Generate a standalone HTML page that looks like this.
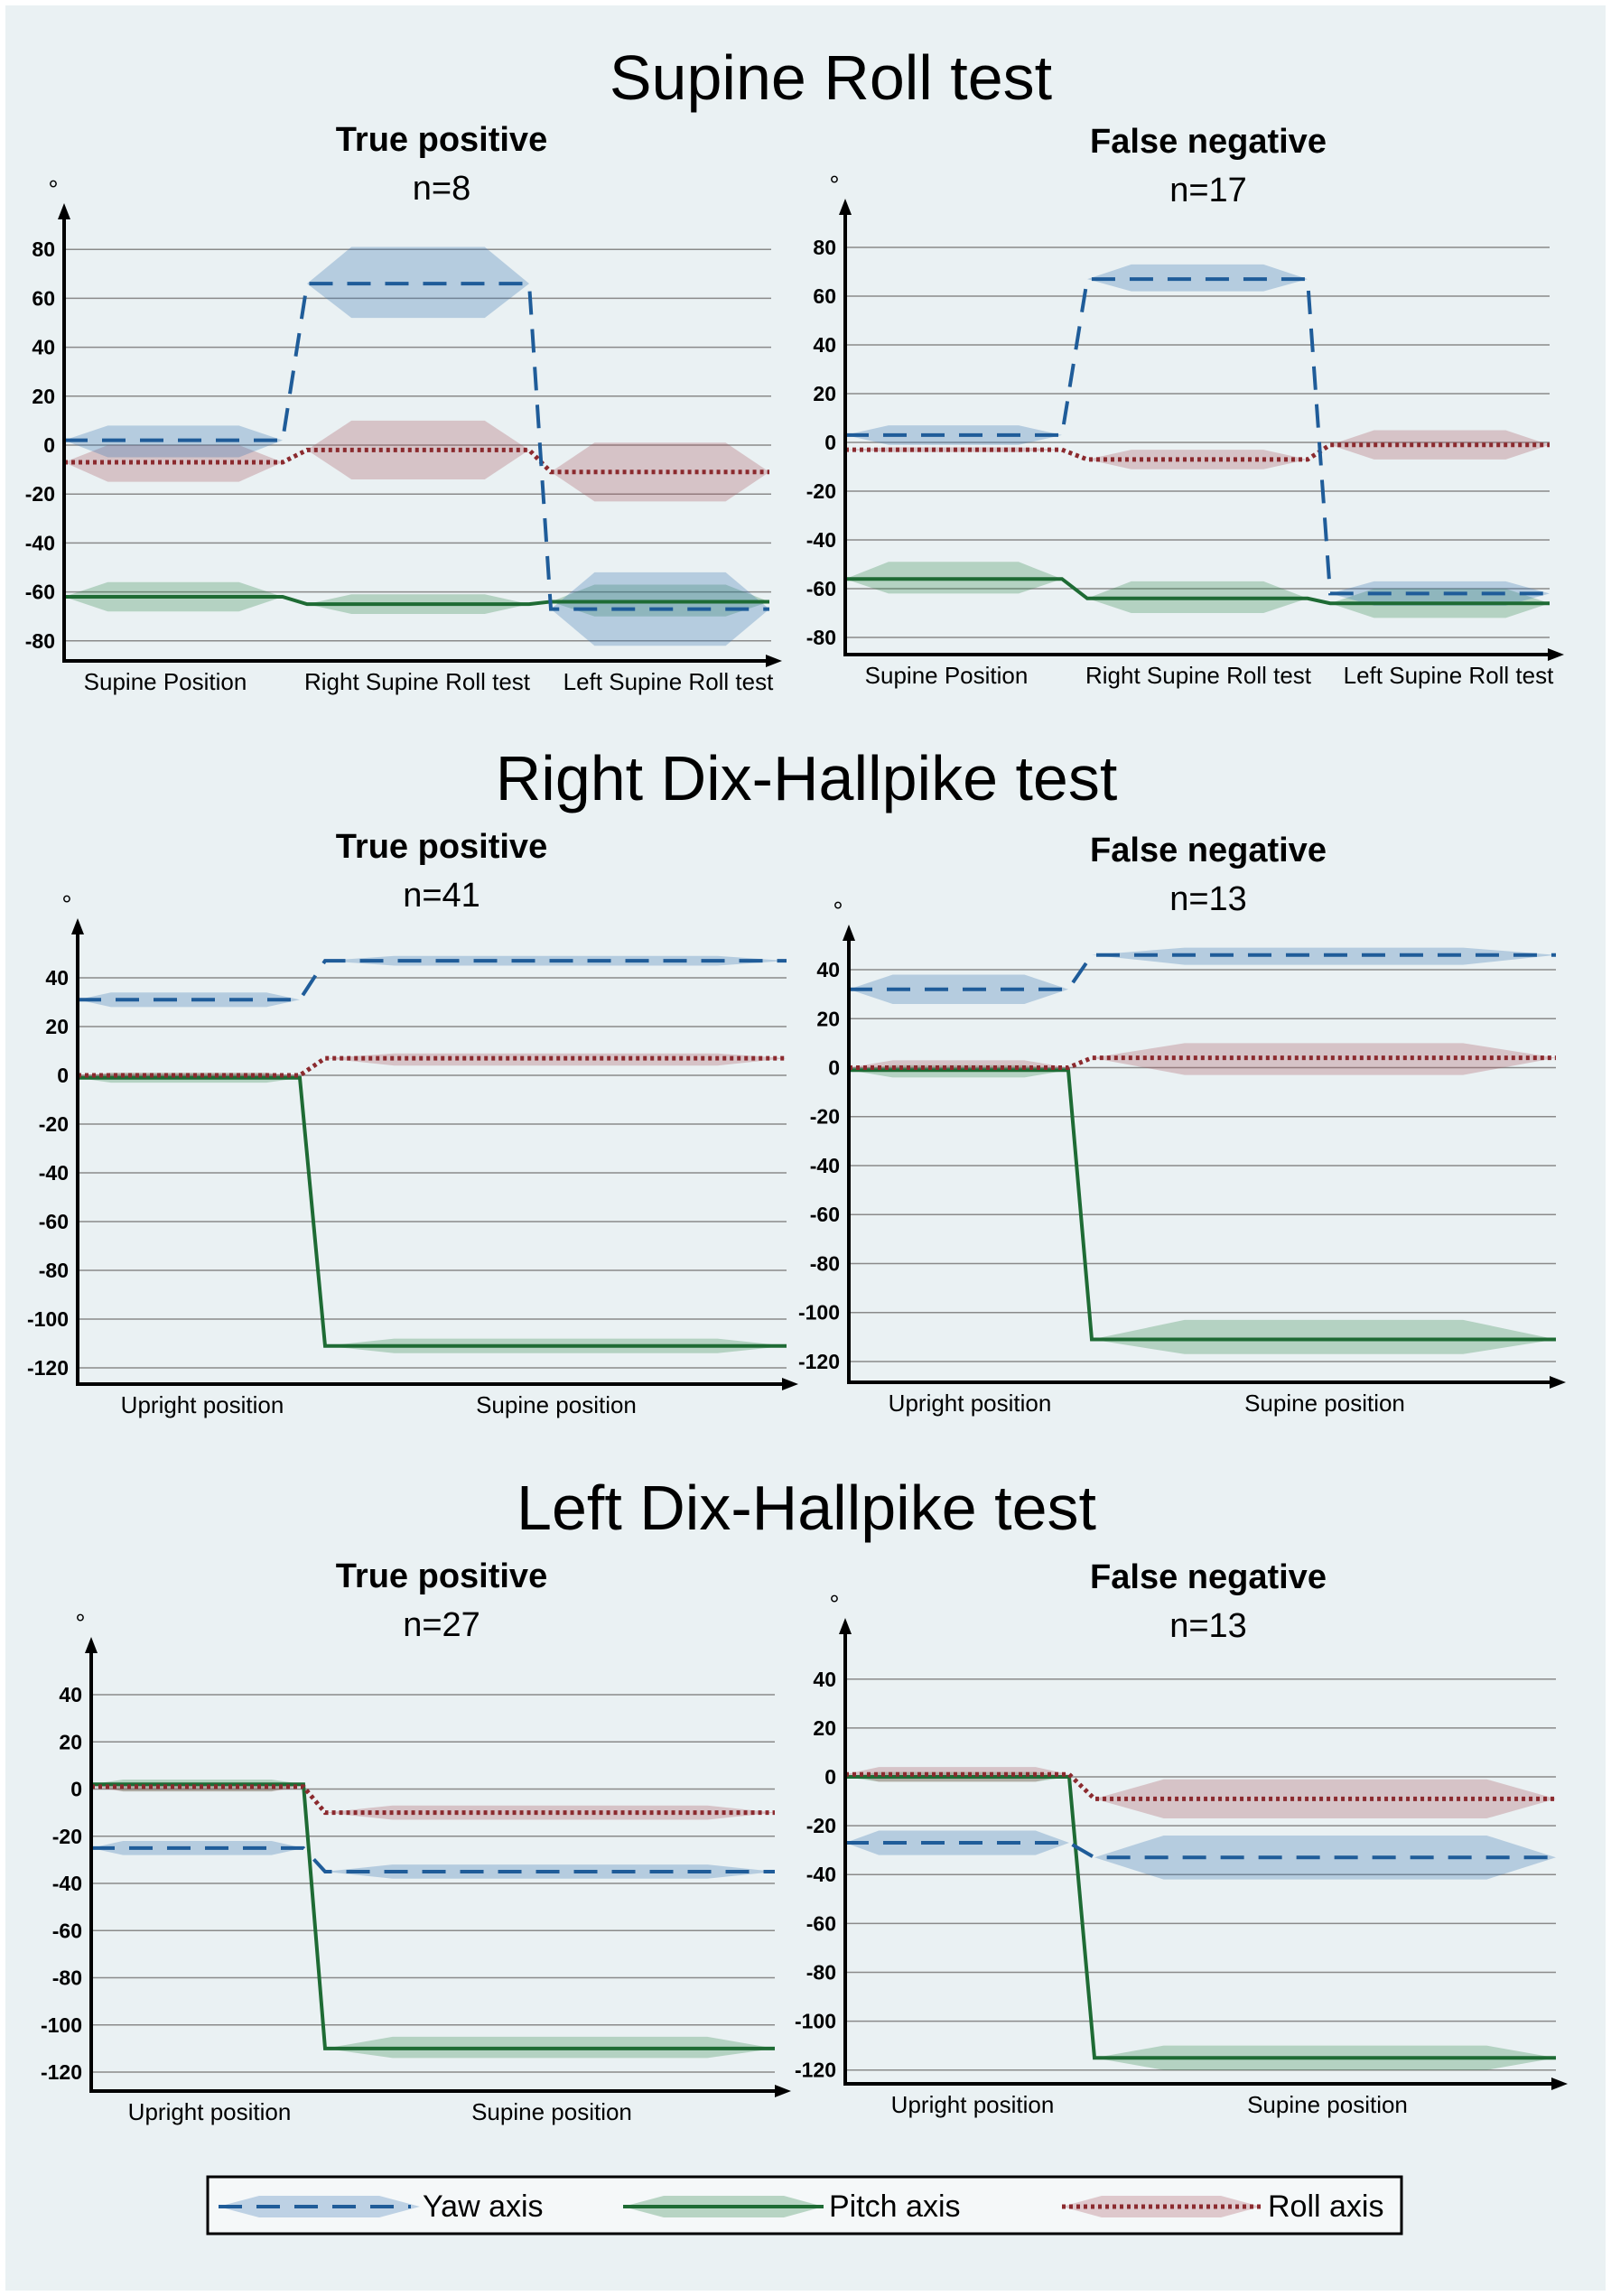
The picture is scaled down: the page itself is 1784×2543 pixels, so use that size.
<!DOCTYPE html>
<html><head><meta charset="utf-8">
<style>
html,body{margin:0;padding:0;background:#fff;}
#wrap{position:relative;width:1784px;height:2543px;background:#fff;}
svg{position:absolute;left:0;top:0;}
text{font-family:"Liberation Sans",sans-serif;}
</style></head>
<body>
<div id="wrap">
<svg id="fig" width="1784" height="2543" viewBox="0 0 1784 2543">
<rect x="6" y="6" width="1772" height="2531" fill="#eaf1f3"/>
<text x="920" y="110" font-size="70" text-anchor="middle" fill="#000">Supine Roll test</text>
<text x="893" y="886" font-size="70" text-anchor="middle" fill="#000">Right Dix-Hallpike test</text>
<text x="893" y="1694" font-size="70" text-anchor="middle" fill="#000">Left Dix-Hallpike test</text>
<g id="legend">
<rect x="230" y="2411" width="1322" height="63" fill="#f5f8f9" stroke="#000" stroke-width="3"/>
<g>
<polygon points="242,2444 287,2432 420,2432 465,2444 420,2456 287,2456" fill="rgba(60,120,180,0.3)"/>
<line x1="242" y1="2444" x2="455" y2="2444" stroke="#1f5c99" stroke-width="4" stroke-dasharray="26,16"/>
<text x="468" y="2455" font-size="34">Yaw axis</text></g>
<g>
<polygon points="690,2444 735,2432 868,2432 912,2444 868,2456 735,2456" fill="rgba(40,130,70,0.3)"/>
<line x1="690" y1="2444" x2="912" y2="2444" stroke="#1e6b34" stroke-width="4"/>
<text x="918" y="2455" font-size="34">Pitch axis</text></g>
<g>
<polygon points="1176,2444 1220,2432 1352,2432 1396,2444 1352,2456 1220,2456" fill="rgba(170,90,100,0.3)"/>
<line x1="1176" y1="2444" x2="1396" y2="2444" stroke="#8b2a2e" stroke-width="5" stroke-dasharray="4,4"/>
<text x="1404" y="2455" font-size="34">Roll axis</text></g>
</g>
</svg>
</div>
<script>
// ---- data (degrees) ----
const p1Categories = ["Supine Position","Right Supine Roll test","Left Supine Roll test"];
const p1Yaw = [2, 66, -67];   const p1YawLo = [-5, 52, -82];   const p1YawHi = [8, 81, -52];
const p1Roll = [-7, -2, -11]; const p1RollLo = [-15, -14, -23]; const p1RollHi = [0, 10, 1];
const p1Pitch = [-62, -65, -64]; const p1PitchLo = [-68, -69, -70]; const p1PitchHi = [-56, -61, -57];

const p2Categories = ["Supine Position","Right Supine Roll test","Left Supine Roll test"];
const p2Yaw = [3, 67, -62];   const p2YawLo = [-1, 62, -67];   const p2YawHi = [7, 73, -57];
const p2Roll = [-3, -7, -1];  const p2RollLo = [-4, -11, -7];  const p2RollHi = [-2, -3, 5];
const p2Pitch = [-56, -64, -66]; const p2PitchLo = [-62, -70, -72]; const p2PitchHi = [-49, -57, -60];

const p3Categories = ["Upright position","Supine position"];
const p3Yaw = [31, 47];   const p3YawLo = [28, 45];   const p3YawHi = [34, 49];
const p3Roll = [0, 7];    const p3RollLo = [-1, 4];   const p3RollHi = [1, 9];
const p3Pitch = [-1, -111]; const p3PitchLo = [-3, -114]; const p3PitchHi = [1, -108];

const p4Categories = ["Upright position","Supine position"];
const p4Yaw = [32, 46];   const p4YawLo = [26, 42];   const p4YawHi = [38, 49];
const p4Roll = [0, 4];    const p4RollLo = [-1, -3];  const p4RollHi = [3, 10];
const p4Pitch = [-1, -111]; const p4PitchLo = [-4, -117]; const p4PitchHi = [1, -103];

const p5Categories = ["Upright position","Supine position"];
const p5Yaw = [-25, -35]; const p5YawLo = [-28, -38]; const p5YawHi = [-22, -32];
const p5Roll = [1, -10];  const p5RollLo = [-1, -13]; const p5RollHi = [2, -7];
const p5Pitch = [2, -110]; const p5PitchLo = [-1, -114]; const p5PitchHi = [4, -105];

const p6Categories = ["Upright position","Supine position"];
const p6Yaw = [-27, -33]; const p6YawLo = [-32, -42]; const p6YawHi = [-22, -24];
const p6Roll = [1, -9];   const p6RollLo = [-2, -17]; const p6RollHi = [4, -1];
const p6Pitch = [0, -115]; const p6PitchLo = [-2, -120]; const p6PitchHi = [2, -110];

const rollTicks = [80, 60, 40, 20, 0, -20, -40, -60, -80];
const dixTicks = [40, 20, 0, -20, -40, -60, -80, -100, -120];

// ---- layout ----
const NS = "http://www.w3.org/2000/svg";
const fig = document.getElementById("fig");
const legend = document.getElementById("legend");
function panel(cfg){
  const g = document.createElementNS(NS,"g");
  
  
  fig.insertBefore(g, legend);
  const add = (tag, attrs) => { const e = document.createElementNS(NS, tag); for (const k in attrs) e.setAttribute(k, attrs[k]); g.appendChild(e); return e; };
  const y = v => cfg.zero - v * cfg.ppu;
  const n = cfg.cats.length;
  const xs0 = cfg.segs.map(s => s[0]), xs1 = cfg.segs.map(s => s[1]);
  let t = add("text", {x: cfg.cx, y: cfg.ty, "font-size": 38, "font-weight": "bold", "text-anchor": "middle"});
  t.textContent = cfg.title;
  
  
  t = add("text", {x: cfg.cx, y: cfg.ty + 54, "font-size": 38, "text-anchor": "middle"});
  t.textContent = cfg.n;
  
  
  t = add("text", {x: cfg.ax - 12, y: cfg.top - 6, "font-size": 28, "text-anchor": "middle"});
  t.textContent = "°";
  
  
  cfg.ticks.forEach(v => {
    const l = add("line", {x1: cfg.ax, x2: cfg.gr, y1: y(v), y2: y(v), stroke: "#8a8a8a", "stroke-width": 1.5});
    
    
    const tl = add("text", {x: cfg.ax - 10, y: y(v) + 8, "font-size": 23, "font-weight": "bold", "text-anchor": "end"});
    tl.textContent = v;
    
    
  });
  const series = [
    {name: "pitch", m: cfg.pitch, lo: cfg.pitchLo, hi: cfg.pitchHi, fill: "rgba(40,130,70,0.28)", stroke: "#1e6b34", w: 4, dash: ""},
    {name: "roll", m: cfg.roll, lo: cfg.rollLo, hi: cfg.rollHi, fill: "rgba(170,90,100,0.3)", stroke: "#8b2a2e", w: 5, dash: "4,4"},
    {name: "yaw", m: cfg.yaw, lo: cfg.yawLo, hi: cfg.yawHi, fill: "rgba(60,120,180,0.3)", stroke: "#1f5c99", w: 4, dash: "26,16"}
  ];
  series.forEach(s => {
    for (let i = 0; i < n; i++){
      const a = xs0[i], b = xs1[i], w = (b - a) * cfg.bevel;
      const p = add("polygon", {points: [[a,y(s.m[i])],[a+w,y(s.hi[i])],[b-w,y(s.hi[i])],[b,y(s.m[i])],[b-w,y(s.lo[i])],[a+w,y(s.lo[i])]].map(q=>q.join(",")).join(" "), fill: s.fill});
      
      
    }
  });
  series.forEach(s => {
    const pts = [];
    for (let i = 0; i < n; i++){ pts.push([xs0[i], y(s.m[i])]); pts.push([xs1[i], y(s.m[i])]); }
    const pl = add("polyline", {points: pts.map(q=>q.join(",")).join(" "), fill: "none", stroke: s.stroke, "stroke-width": s.w, "stroke-dasharray": s.dash});
    
    
  });
  let a1 = add("line", {x1: cfg.ax, x2: cfg.ax, y1: cfg.bot, y2: cfg.top + 14, stroke: "#000", "stroke-width": 4});
  
  
  let ar = add("polygon", {points: `${cfg.ax-7},${cfg.top+18} ${cfg.ax+7},${cfg.top+18} ${cfg.ax},${cfg.top}`, fill: "#000"});
  
  
  let a2 = add("line", {x1: cfg.ax - 2, x2: cfg.ar - 14, y1: cfg.bot, y2: cfg.bot, stroke: "#000", "stroke-width": 4});
  
  
  ar = add("polygon", {points: `${cfg.ar-18},${cfg.bot-7} ${cfg.ar-18},${cfg.bot+7} ${cfg.ar},${cfg.bot}`, fill: "#000"});
  
  
  cfg.cats.forEach((c, i) => {
    const tl = add("text", {x: cfg.catx[i], y: cfg.bot + 32, "font-size": 26, "text-anchor": "middle"});
    tl.textContent = c;
    
    
  });
}

panel({name:"supine-roll-true-positive", title:"True positive", n:"n=8", cx:489, ty:167, ax:71, gr:854, ar:866, top:225, bot:732, zero:493, ppu:2.71, ticks:rollTicks,
  cats:p1Categories, catx:[183,462,740], segs:[[71,313],[340,586],[610,852]], bevel:0.2,
  yaw:p1Yaw, yawLo:p1YawLo, yawHi:p1YawHi, roll:p1Roll, rollLo:p1RollLo, rollHi:p1RollHi, pitch:p1Pitch, pitchLo:p1PitchLo, pitchHi:p1PitchHi});
panel({name:"supine-roll-false-negative", title:"False negative", n:"n=17", cx:1338, ty:169, ax:936, gr:1716, ar:1732, top:220, bot:725, zero:490, ppu:2.7, ticks:rollTicks,
  cats:p2Categories, catx:[1048,1327,1604], segs:[[936,1176],[1204,1448],[1473,1716]], bevel:0.2,
  yaw:p2Yaw, yawLo:p2YawLo, yawHi:p2YawHi, roll:p2Roll, rollLo:p2RollLo, rollHi:p2RollHi, pitch:p2Pitch, pitchLo:p2PitchLo, pitchHi:p2PitchHi});
panel({name:"right-dix-true-positive", title:"True positive", n:"n=41", cx:489, ty:950, ax:86, gr:871, ar:884, top:1017, bot:1533, zero:1191, ppu:2.7, ticks:dixTicks,
  cats:p3Categories, catx:[224,616], segs:[[86,332],[360,871]], bevel:0.15,
  yaw:p3Yaw, yawLo:p3YawLo, yawHi:p3YawHi, roll:p3Roll, rollLo:p3RollLo, rollHi:p3RollHi, pitch:p3Pitch, pitchLo:p3PitchLo, pitchHi:p3PitchHi});
panel({name:"right-dix-false-negative", title:"False negative", n:"n=13", cx:1338, ty:954, ax:940, gr:1723, ar:1734, top:1024, bot:1531, zero:1182.5, ppu:2.712, ticks:dixTicks,
  cats:p4Categories, catx:[1074,1467], segs:[[940,1183],[1209,1723]], bevel:0.2,
  yaw:p4Yaw, yawLo:p4YawLo, yawHi:p4YawHi, roll:p4Roll, rollLo:p4RollLo, rollHi:p4RollHi, pitch:p4Pitch, pitchLo:p4PitchLo, pitchHi:p4PitchHi});
panel({name:"left-dix-true-positive", title:"True positive", n:"n=27", cx:489, ty:1758, ax:101, gr:858, ar:876, top:1813, bot:2316, zero:1981.5, ppu:2.6125, ticks:dixTicks,
  cats:p5Categories, catx:[232,611], segs:[[101,336],[360,858]], bevel:0.15,
  yaw:p5Yaw, yawLo:p5YawLo, yawHi:p5YawHi, roll:p5Roll, rollLo:p5RollLo, rollHi:p5RollHi, pitch:p5Pitch, pitchLo:p5PitchLo, pitchHi:p5PitchHi});
panel({name:"left-dix-false-negative", title:"False negative", n:"n=13", cx:1338, ty:1759, ax:936, gr:1723, ar:1736, top:1792, bot:2308, zero:1968, ppu:2.706, ticks:dixTicks,
  cats:p6Categories, catx:[1077,1470], segs:[[936,1184],[1212,1723]], bevel:0.15,
  yaw:p6Yaw, yawLo:p6YawLo, yawHi:p6YawHi, roll:p6Roll, rollLo:p6RollLo, rollHi:p6RollHi, pitch:p6Pitch, pitchLo:p6PitchLo, pitchHi:p6PitchHi});
</script>
</body></html>
